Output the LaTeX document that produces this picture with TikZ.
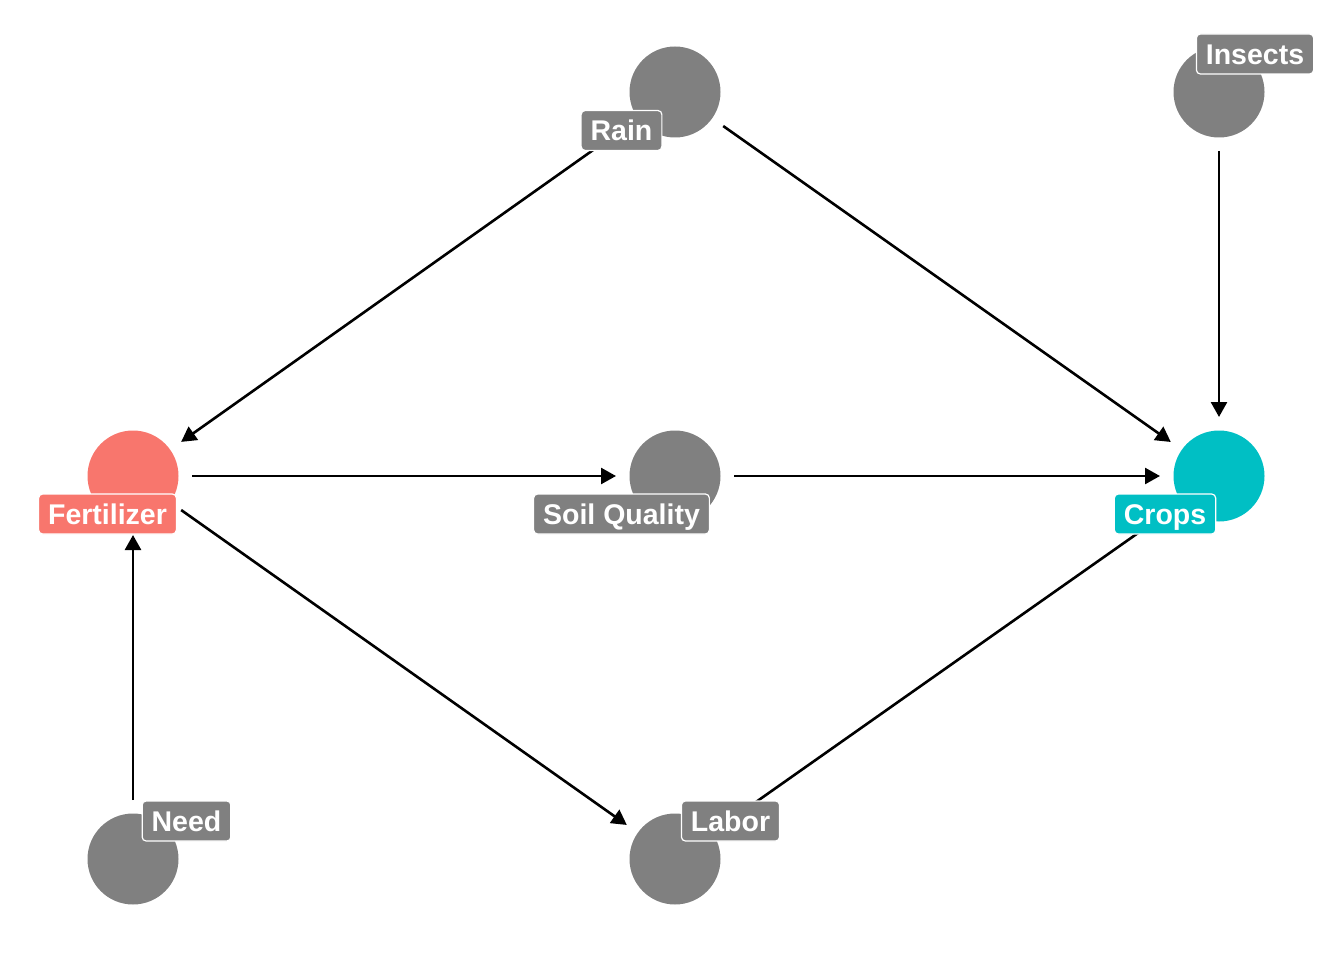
\documentclass[tikz,border=0pt]{standalone}
\usepackage{fontspec}
\setmainfont{Liberation Sans}
\usetikzlibrary{arrows.meta}
\definecolor{dagGrey}{HTML}{808080}
\definecolor{dagRed}{HTML}{F8766D}
\definecolor{dagCyan}{HTML}{00BFC4}
\tikzset{
  dot/.style={circle, minimum size=91pt, inner sep=0pt, fill=#1},
  tag/.style={rounded corners=4pt, draw=white, line width=1.2pt, fill=#1,
    text=white, font=\fontsize{28.5}{30}\selectfont\bfseries,
    text height=20.6pt, text depth=0pt, inner xsep=9.5pt, inner ysep=9.7pt},
  edge/.style={line width=2.6pt, shorten <=59pt, shorten >=59pt,
    -{Triangle[length=15pt,width=16pt]}}
}
\begin{document}
\begin{tikzpicture}[x=1pt,y=-1pt]
\useasboundingbox (0,0) rectangle (1344,960);
% variables
\node[dot=dagGrey] (rain)    at (675,92)  {};
\node[dot=dagGrey] (insects) at (1219,92) {};
\node[dot=dagRed]  (fert)    at (133,476) {};
\node[dot=dagGrey] (soil)    at (675,476) {};
\node[dot=dagCyan] (crops)   at (1219,476) {};
\node[dot=dagGrey] (need)    at (133,859) {};
\node[dot=dagGrey] (labor)   at (675,859) {};
% causal edges
\draw[edge] (rain.center) -- (fert.center);
\draw[edge] (rain.center) -- (crops.center);
\draw[edge] (insects.center) -- (crops.center);
\draw[edge] (fert.center) -- (soil.center);
\draw[edge] (soil.center) -- (crops.center);
\draw[edge] (fert.center) -- (labor.center);
\draw[edge] (labor.center) -- (crops.center);
\draw[edge] (need.center) -- (fert.center);
% labels
\node[tag=dagRed]  (fertL)    at (107.5,514) {Fertilizer};
\node[tag=dagGrey] (soilL)    at (621.5,514) {Soil Quality};
\node[tag=dagCyan] (cropsL)   at (1165,514)  {Crops};
\node[tag=dagGrey] (rainL)    at (621.5,130.5) {Rain};
\node[tag=dagGrey] (insectsL) at (1255,54)   {Insects};
\node[tag=dagGrey] (needL)    at (186.5,821) {Need};
\node[tag=dagGrey] (laborL)   at (730.5,821) {Labor};
\end{tikzpicture}
\end{document}
